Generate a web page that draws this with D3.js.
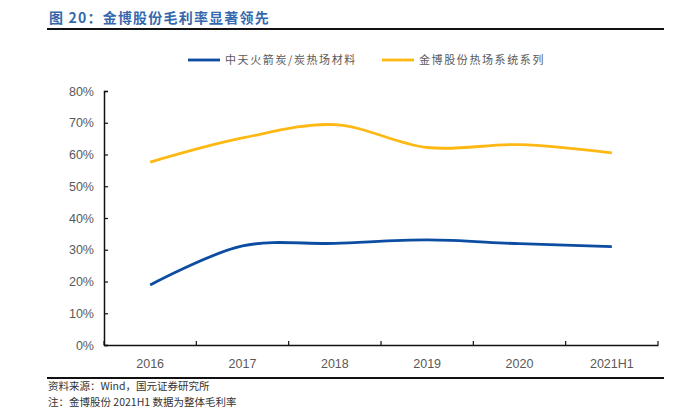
<!DOCTYPE html>
<html>
<head>
<meta charset="utf-8">
<script src="https://cdn.jsdelivr.net/npm/d3@7/dist/d3.min.js"></script>
<style>
body { margin: 0; background: #fff; }
</style>
</head>
<body>
<div id="canvas"></div>
<script>
var years = ["2016", "2017", "2018", "2019", "2020", "2021H1"];
var zhongtian = [18.9, 31.2, 32.0, 33.1, 31.9, 31.0];
var jinbo = [57.6, 65.2, 69.4, 62.2, 63.1, 60.5];
var yTicks = [0, 10, 20, 30, 40, 50, 60, 70, 80];
var seriesNames = ["中天火箭炭/炭热场材料", "金博股份热场系统系列"];

var width = 682, height = 417;
var cjk = "'Noto Sans CJK SC', sans-serif";
var latin = "'Liberation Sans', Arial, sans-serif";

var svg = d3.select("#canvas")
	.append("svg")
	.attr("width", width)
	.attr("height", height);

// title + rules
svg.append("text")
	.text("图 20：金博股份毛利率显著领先")
	.attr("x", 49)
	.attr("y", 23)
	.attr("font-family", cjk)
	.attr("font-weight", "bold")
	.attr("font-size", 14)
	.attr("letter-spacing", 1.2)
	.attr("fill", "#3468AE");

svg.append("line")
	.attr("x1", 47).attr("x2", 664)
	.attr("y1", 29).attr("y2", 29)
	.attr("stroke", "#111")
	.attr("stroke-width", 2);

svg.append("line")
	.attr("x1", 47).attr("x2", 664)
	.attr("y1", 378).attr("y2", 378)
	.attr("stroke", "#111")
	.attr("stroke-width", 1.8);

// scales
var x = d3.scaleBand()
	.domain(years)
	.range([104, 658]);

var y = d3.scaleLinear()
	.domain([0, 80])
	.range([345, 91]);

// axes
var yAxis = svg.append("g")
	.attr("transform", "translate(104,0)")
	.call(d3.axisLeft(y)
		.tickValues(yTicks)
		.tickSize(-4)
		.tickPadding(10)
		.tickFormat(function(d){ return d + "%"; }));

var xAxis = svg.append("g")
	.attr("transform", "translate(0,345)")
	.call(d3.axisBottom(x).tickSize(0).tickPadding(14));

// band boundary ticks on x axis
xAxis.selectAll("line.edge")
	.data(years.concat(["end"]))
	.enter()
	.append("line")
	.attr("class", "edge")
	.attr("x1", function(d, i){ return i < years.length ? x(d) : x.range()[1]; })
	.attr("x2", function(d, i){ return i < years.length ? x(d) : x.range()[1]; })
	.attr("y1", 0)
	.attr("y2", -4)
	.attr("stroke", "#111")
	.attr("stroke-width", 1.2);

[yAxis, xAxis].forEach(function(a) {
	a.select(".domain").attr("stroke", "#111").attr("stroke-width", 1.5);
	a.selectAll(".tick line").attr("stroke", "#111").attr("stroke-width", 1.2);
	a.selectAll("text")
		.attr("font-family", latin)
		.attr("font-size", 12.5)
		.attr("fill", "#595959");
});

// lines
var line = d3.line()
	.x(function(d, i){ return x(years[i]) + x.bandwidth() / 2; })
	.y(function(d){ return y(d); })
	.curve(d3.curveCatmullRom.alpha(0.5));

var colors = ["#0C4DA2", "#FDB813"];
[zhongtian, jinbo].forEach(function(s, k) {
	svg.append("path")
		.datum(s)
		.attr("d", line)
		.attr("fill", "none")
		.attr("stroke", colors[k])
		.attr("stroke-width", 2.8);
});

// legend
var legendX = [188, 382];
seriesNames.forEach(function(name, k) {
	svg.append("line")
		.attr("x1", legendX[k]).attr("x2", legendX[k] + 32)
		.attr("y1", 60).attr("y2", 60)
		.attr("stroke", colors[k])
		.attr("stroke-width", 2.8);
	svg.append("text")
		.text(name)
		.attr("x", legendX[k] + 37)
		.attr("y", 64)
		.attr("font-family", cjk)
		.attr("font-size", 11)
		.attr("letter-spacing", 1.6)
		.attr("fill", "#595959");
});

// notes
svg.append("text")
	.text("资料来源：Wind，国元证券研究所")
	.attr("x", 48)
	.attr("y", 390)
	.attr("font-family", cjk)
	.attr("font-size", 10.5)
	.attr("fill", "#333");

svg.append("text")
	.text("注：金博股份 2021H1 数据为整体毛利率")
	.attr("x", 48)
	.attr("y", 406)
	.attr("font-family", cjk)
	.attr("font-size", 10.5)
	.attr("fill", "#333");
</script>
</body>
</html>
